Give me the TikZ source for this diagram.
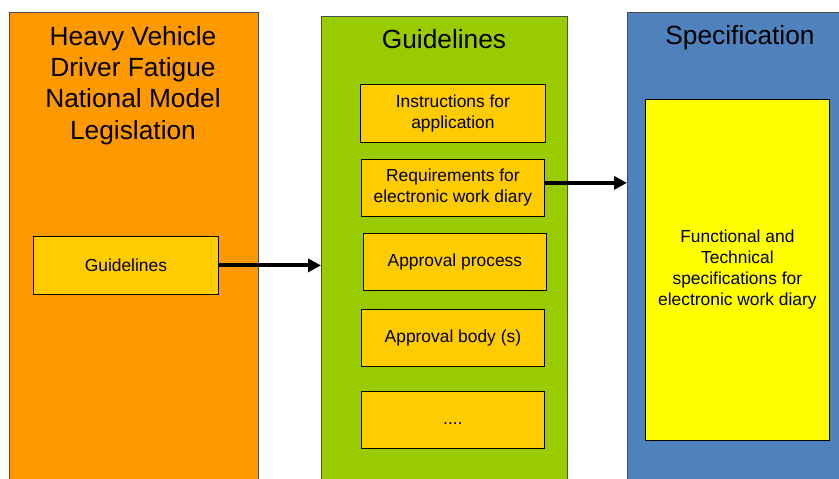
\documentclass[tikz,border=0pt]{standalone}
\usepackage{fontspec}
\setmainfont{Liberation Sans}
\usetikzlibrary{arrows.meta}
\definecolor{corange}{HTML}{FF9900}
\definecolor{cgreen}{HTML}{99CC00}
\definecolor{cblue}{HTML}{4F81BD}
\definecolor{cgold}{HTML}{FFCC00}
\definecolor{cyellow}{HTML}{FFFF00}
\begin{document}
\begin{tikzpicture}[x=1pt,y=-1pt,
  col/.style={draw=black!70, line width=0.8pt, inner sep=0pt, anchor=north west},
  inbox/.style={draw=black, line width=0.8pt, fill=cgold, inner sep=0pt, anchor=north west,
    align=center, font=\fontsize{17.4}{21}\selectfont},
  ttl/.style={inner sep=0pt, align=center, font=\fontsize{26.3}{31.3}\selectfont},
  arr/.style={line width=4pt, -{Triangle[length=13pt,width=13pt]}}]
\useasboundingbox (0,0) rectangle (839,479);
% columns
\node[col, fill=corange, minimum width=249pt, minimum height=480pt] (leg) at (9,12) {};
\node[col, fill=cgreen, minimum width=246pt, minimum height=475pt] (gui) at (321,16) {};
\node[col, fill=cblue, minimum width=220pt, minimum height=480pt] (spec) at (627,12) {};
% titles
\node[ttl, anchor=north] (legt) at (133,26) {Heavy Vehicle\\Driver Fatigue\\National Model\\Legislation};
\node[ttl, anchor=base] (guit) at (444,48) {Guidelines};
\node[ttl, anchor=base] (spect) at (740,44) {Specification};
% inner boxes
\node[inbox, minimum width=185pt, minimum height=58pt] (og) at (33,236) {Guidelines};
\node[inbox, minimum width=185pt, minimum height=58pt] (ins) at (360,84) {Instructions for\\application};
\node[inbox, minimum width=183pt, minimum height=57pt] (req) at (361,159) {Requirements for\\electronic work diary};
\node[inbox, minimum width=183pt, minimum height=57pt] (app) at (363,233) {Approval process};
\node[inbox, minimum width=183pt, minimum height=57pt] (body) at (361,309) {Approval body (s)};
\node[inbox, minimum width=183pt, minimum height=57pt] (dots) at (361,391) {\vphantom{Ag}....};
\node[inbox, fill=cyellow, minimum width=184pt, minimum height=341pt] (fun) at (645,99)
  {Functional and\\Technical\\specifications for\\electronic work diary};
% arrows
\coordinate (reqa) at ([yshift=5pt]req.east);
\draw[arr] (og.east) -- (og.east -| gui.west);
\draw[arr] (reqa) -- (reqa -| spec.west);
\end{tikzpicture}
\end{document}
